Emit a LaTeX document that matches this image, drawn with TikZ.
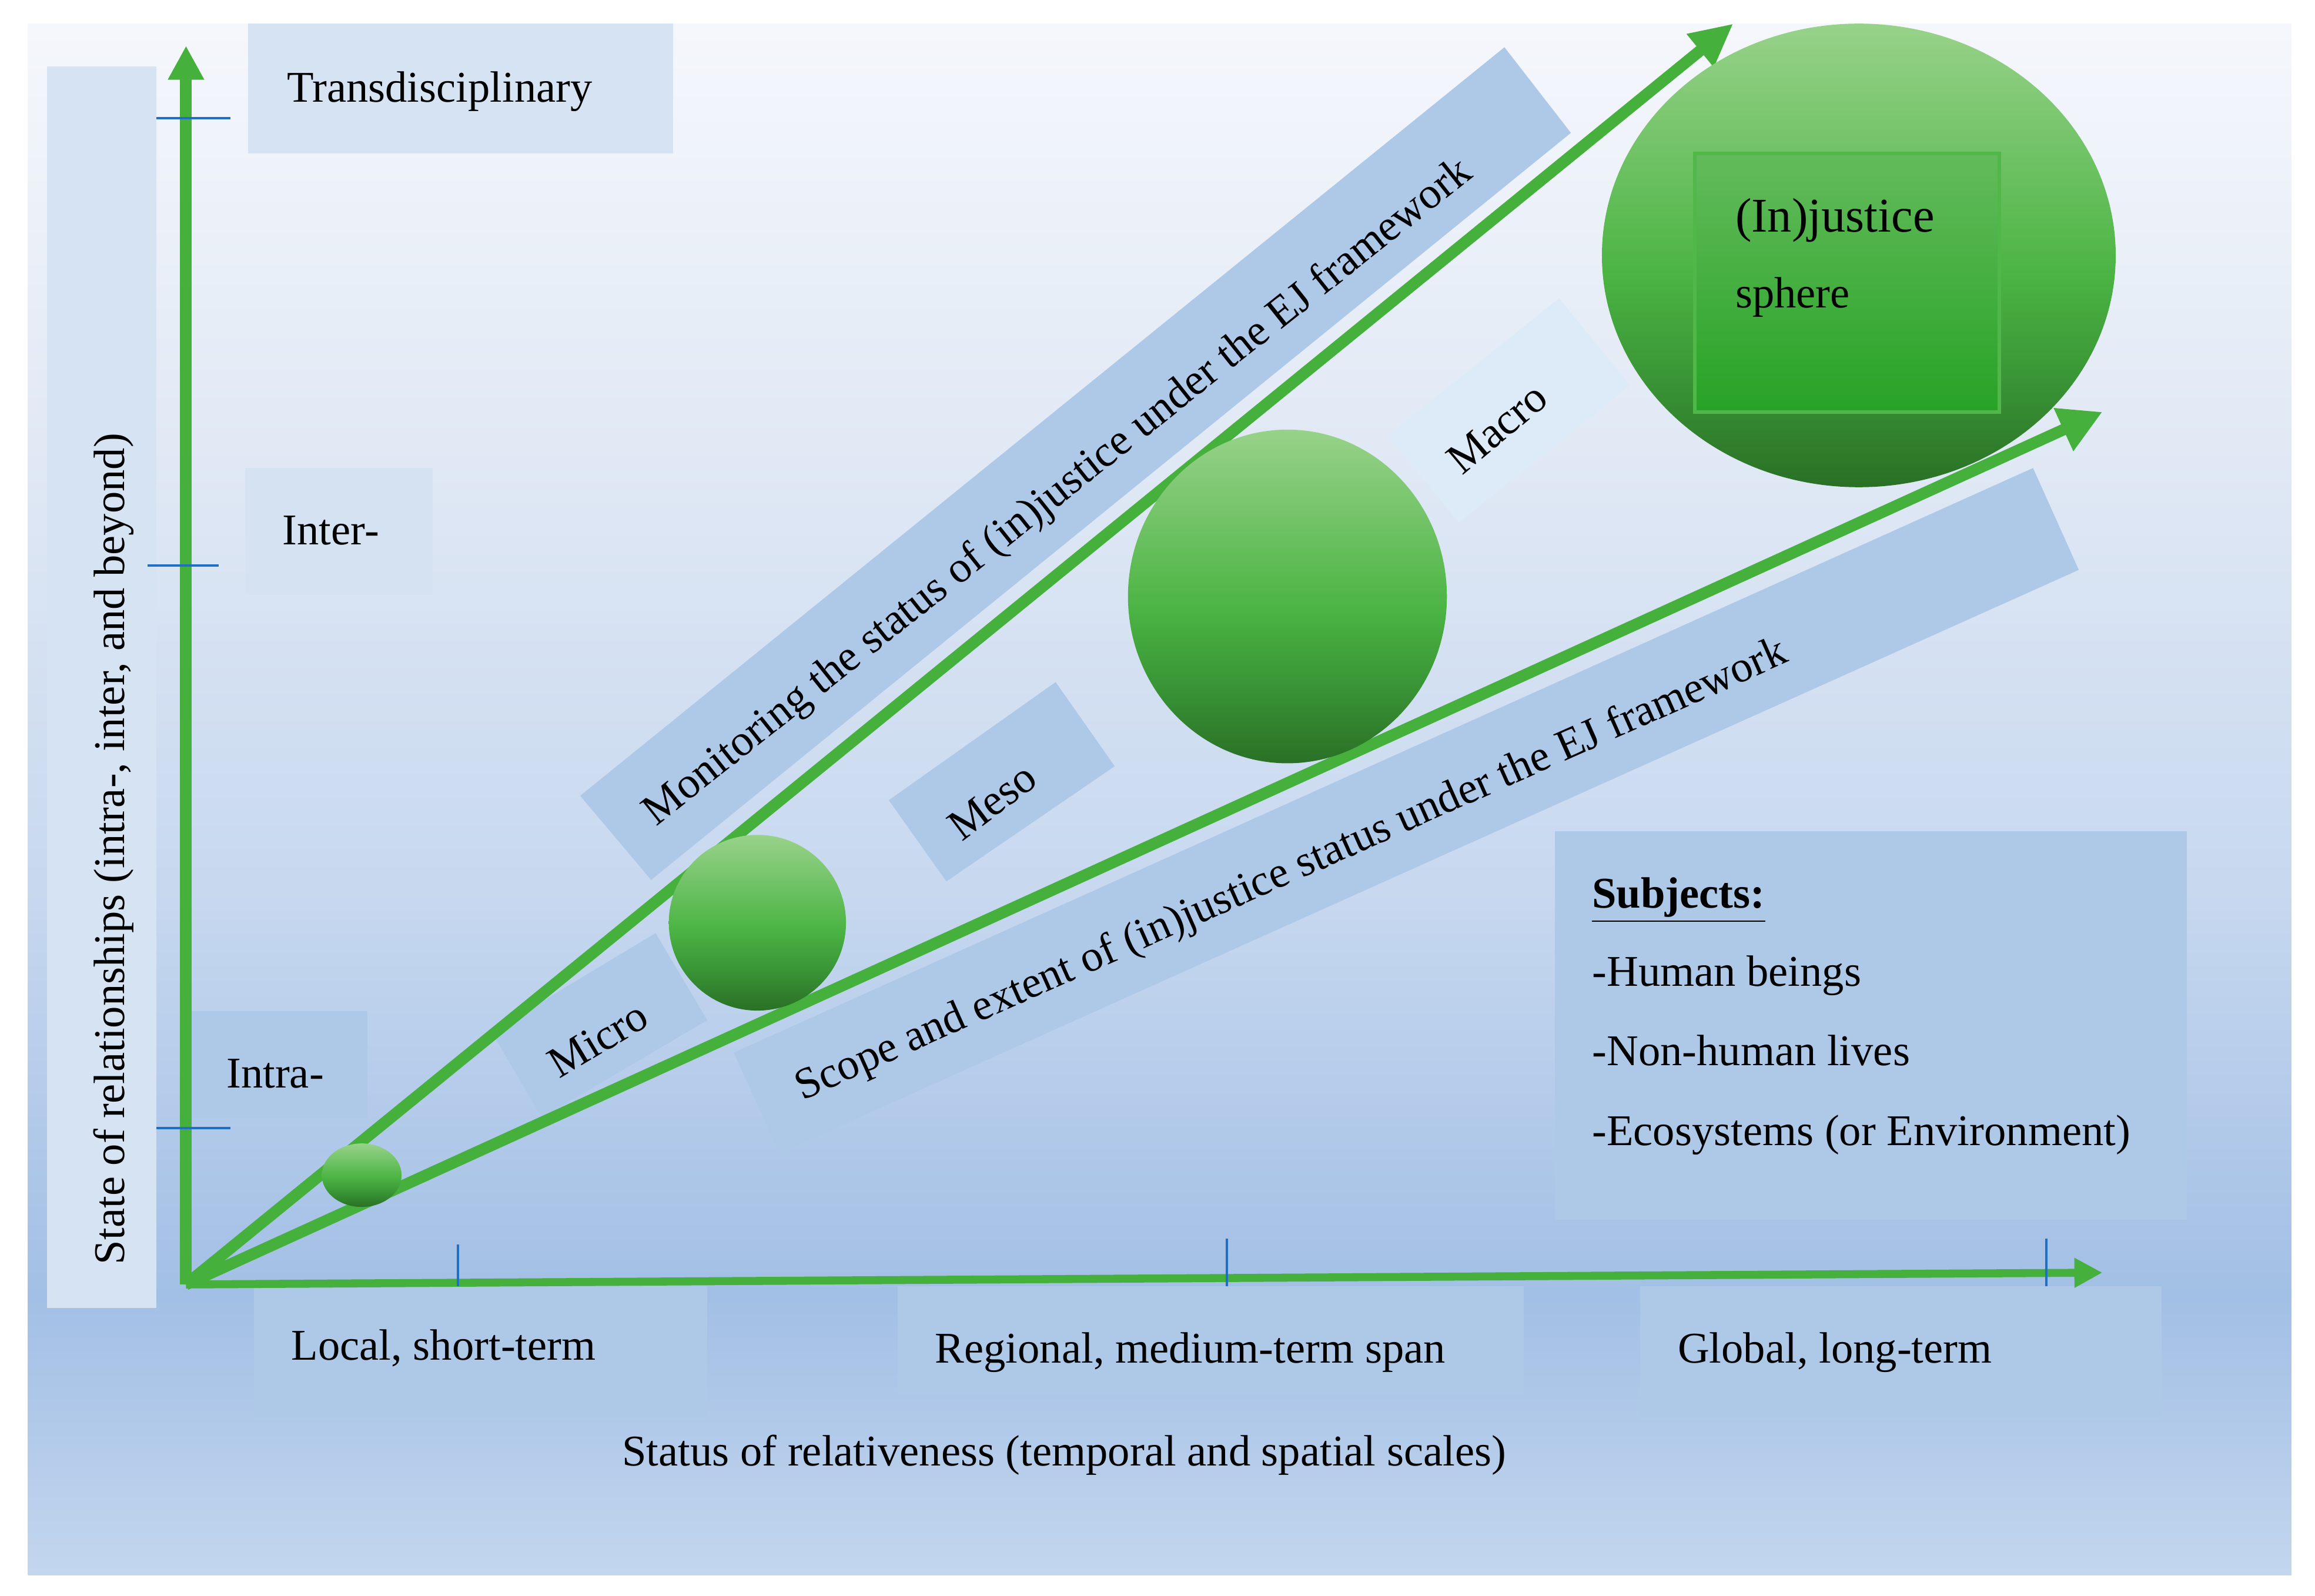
\documentclass[tikz,border=0pt]{standalone}
\usepackage{fontspec}
\setmainfont{Liberation Serif}
\usetikzlibrary{arrows.meta,shapes.geometric}

\definecolor{ejgreen}{HTML}{45B03C}
\definecolor{tickblue}{HTML}{1F6FC6}
\definecolor{bluebox}{HTML}{AEC8E8}
\definecolor{palebox}{HTML}{D6E3F3}
\definecolor{fadebox}{HTML}{D5E2F2}
\definecolor{macrobox}{HTML}{DCEBF7}
\definecolor{bgtop}{HTML}{F5F7FC}
\definecolor{bgupper}{HTML}{E1E9F5}
\definecolor{bgmid}{HTML}{C7D8EF}
\definecolor{bglow}{HTML}{A2BFE5}
\definecolor{bgfoot}{HTML}{C3D6EE}
\definecolor{sphtop}{HTML}{98D28A}
\definecolor{sphmid}{HTML}{4BB443}
\definecolor{sphdark}{HTML}{3A9636}
\definecolor{sphbot}{HTML}{2A7026}
\definecolor{coretop}{HTML}{63BB5B}
\definecolor{corebot}{HTML}{27A326}
\definecolor{coreedge}{HTML}{4FB848}

\newcommand{\nf}{\fontsize{14.85}{17}\selectfont}
\newcommand{\bigf}{\fontsize{16.4}{19}\selectfont}

\pgfdeclareverticalshading{panelshade}{100bp}{color(0bp)=(bgfoot); color(25bp)=(bgfoot);
  color(34bp)=(bglow); color(47bp)=(bgmid); color(61.5bp)=(bgupper); color(75bp)=(bgtop); color(100bp)=(bgtop)}
\pgfdeclareverticalshading{sphereshade}{100bp}{color(0bp)=(sphbot); color(25bp)=(sphbot);
  color(37bp)=(sphdark); color(48bp)=(sphmid); color(75bp)=(sphtop); color(100bp)=(sphtop)}
\pgfdeclareverticalshading{coreshade}{100bp}{color(0bp)=(corebot); color(25bp)=(corebot);
  color(75bp)=(coretop); color(100bp)=(coretop)}

\tikzset{
  axisline/.style={draw=ejgreen},
  tickmark/.style={draw=tickblue, line width=0.8pt},
  lbl/.style={anchor=base west, inner sep=0pt, font=\nf},
  rot/.style={anchor=center, inner sep=0pt, font=\nf},
  sphere/.style={ellipse, shade, shading=sphereshade, inner sep=0pt},
}

\begin{document}
\begin{tikzpicture}[x=0.5pt,y=-0.5pt]
   \useasboundingbox (0,0) rectangle (1568,1081);
   \fill[white] (0,0) rectangle (1568,1081);
   \shade[shading=panelshade] (19,16) rectangle (1552,1067);

   % boxes behind the labels
   \fill[palebox]  (32,45) rectangle (106,886);
   \fill[palebox]  (168,16) rectangle (456,104);
   \fill[fadebox]  (166,317) rectangle (293,403);
   \fill[bluebox]  (127,685) rectangle (249,757);
   \fill[bluebox]  (172,871) rectangle (479,960);
   \fill[bluebox]  (608,871) rectangle (1032,944);
   \fill[bluebox]  (1111,871) rectangle (1464,960);
   \fill[bluebox]  (1053,563) rectangle (1481,826);
   \fill[bluebox]  (393,539) -- (1019,32) -- (1064,90) -- (441,596) -- cycle;
   \fill[bluebox]  (497,713) -- (1377,317) -- (1408,386) -- (528,781) -- cycle;
   \fill[bluebox]  (333,699) -- (444,632) -- (479,691) -- (367,757) -- cycle;
   \fill[bluebox]  (602,542) -- (715,462) -- (755,519) -- (641,597) -- cycle;
   \fill[macrobox] (940,295) -- (1056,202) -- (1104,261) -- (988,354) -- cycle;

   % axes and the two diagonals
   \coordinate (O)     at (126,870);
   \coordinate (ytip)  at (126,31);
   \coordinate (xtip)  at (1424,862);
   \coordinate (utip)  at (1174,16);
   \coordinate (ltip)  at (1424,279);
   \draw[axisline, line width=4pt, -{Triangle[length=11.5pt,width=11.5pt]}] (O) -- (ytip);
   \draw[axisline, line width=2.7pt, -{Triangle[length=9.5pt,width=9.5pt]}] (O) -- (xtip);
   \draw[axisline, line width=3.9pt, -{Triangle[length=14.5pt,width=13.5pt]}] (O) -- (utip);
   \draw[axisline, line width=3.9pt, -{Triangle[length=14.5pt,width=15pt]}]   (O) -- (ltip);

   % ticks
   \draw[tickmark] (106,80) -- (156,80);
   \draw[tickmark] (100,383) -- (148,383);
   \draw[tickmark] (106,764) -- (156,764);
   \draw[tickmark] (310,843) -- (310,871);
   \draw[tickmark] (831,839) -- (831,871);
   \draw[tickmark] (1386,839) -- (1386,871);

   % spheres
   \node[sphere, minimum width=27pt,  minimum height=21.5pt] (s1) at (245,796)  {};
   \node[sphere, minimum width=60pt,  minimum height=59.5pt] (s2) at (513,625)  {};
   \node[sphere, minimum width=108pt, minimum height=113pt]  (s3) at (872,404)  {};
   \node[sphere, minimum width=174pt, minimum height=157pt]  (s4) at (1259,173) {};
   \node[rectangle, shade, shading=coreshade, draw=coreedge, line width=1.2pt,
         minimum width=103pt, minimum height=87.5pt] (core) at (1251,191.5) {};

   % texts
   \node[lbl] (trans)    at (194,69)    {Transdisciplinary};
   \node[lbl] (inter)    at (191,369)   {Inter-};
   \node[lbl] (intra)    at (153,737)   {Intra-};
   \node[lbl] (local)    at (197,921)   {Local, short-term};
   \node[lbl] (regional) at (633,923)   {Regional, medium-term span};
   \node[lbl] (global)   at (1136,923)  {Global, long-term};
   \node[lbl] (status)   at (421,993)   {Status of relativeness (temporal and spatial scales)};
   \node[rot, rotate=90] (state) at (77,575) {State of relationships (intra-, inter, and beyond)};
   \node[lbl] (subj)     at (1078,615)  {\underline{\textbf{Subjects:}}};
   \node[lbl] (human)    at (1078,668)  {-Human beings};
   \node[lbl] (nonhuman) at (1078,721.5){-Non-human lives};
   \node[lbl] (eco)      at (1078,776)  {-Ecosystems (or Environment)};
   \node[rot, rotate=38.5] (monitor) at (717,334) {Monitoring the status of (in)justice under the EJ framework};
   \node[rot, rotate=24]   (scope)   at (875,590) {Scope and extent of (in)justice status under the EJ framework};
   \node[rot, rotate=31] (micro) at (405,704)  {Micro};
   \node[rot, rotate=37] (meso)  at (672,543)  {Meso};
   \node[rot, rotate=40] (macro) at (1014,290) {Macro};
   \node[lbl, font=\bigf] (injust) at (1175,157)   {(In)justice};
   \node[lbl]             (sph)    at (1175,208.6) {sphere};
\end{tikzpicture}
\end{document}
